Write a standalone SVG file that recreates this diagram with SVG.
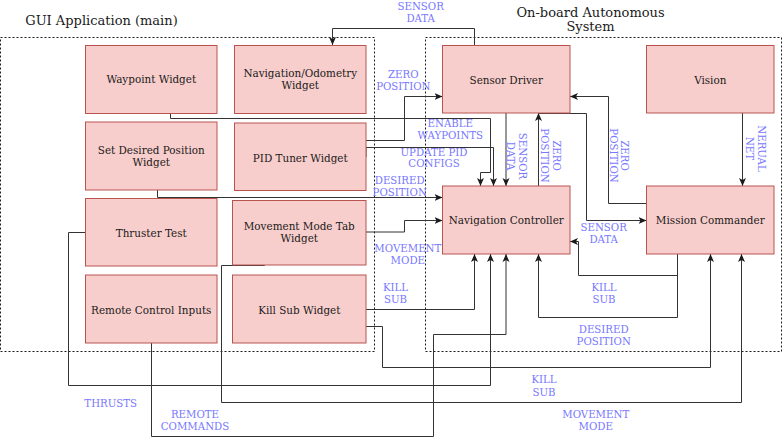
<svg xmlns="http://www.w3.org/2000/svg" width="783" height="444" viewBox="0 0 783 444">
<defs>
<style>
.node rect{fill:#f8cecc;stroke:#b85450;stroke-width:1}
.node text{font-family:"DejaVu Serif",serif;font-size:10.4px;fill:#1a1a1a;text-anchor:middle}
.title{font-family:"DejaVu Serif",serif;font-size:13px;fill:#1a1a1a;text-anchor:middle}
.container{fill:none;stroke:#1a1a1a;stroke-width:1;stroke-dasharray:2 2}
.edge{fill:none;stroke:#333;stroke-width:1;marker-end:url(#arrow)}
.lbl{font-family:"DejaVu Serif",serif;font-size:10.2px;fill:#7878ff;text-anchor:middle}
</style>
<marker id="arrow" viewBox="0 0 8 8" refX="8" refY="4" markerWidth="8" markerHeight="8" markerUnits="userSpaceOnUse" orient="auto">
<path d="M0,0.5 L8,4 L0,7.5 L2,4 Z" fill="#1a1a1a"/>
</marker>
</defs>
<rect width="783" height="444" fill="#ffffff"/>

<g id="gui-container">
<rect class="container" x="0.5" y="37.5" width="374" height="314"/>
<text class="title" x="101.5" y="25">GUI Application (main)</text>
</g>
<g id="onboard-container">
<rect class="container" x="425.5" y="37.5" width="356" height="314"/>
<text class="title" x="590.5" y="16.7">On-board Autonomous</text>
<text class="title" x="590.5" y="31">System</text>
</g>

<g id="connectors">
<path class="edge" d="M474.5,45 V28.5 H332.5 V45"/>
<path class="edge" d="M366,140.5 H404.5 V96.5 H442.5"/>
<path class="edge" d="M170.5,113 V118.5 H490.5 V172.5 H480.5 V186"/>
<path class="edge" d="M366,157 V147.5 H493.5 V186"/>
<path class="edge" d="M157.5,190 V197.5 H442.5"/>
<path class="edge" d="M366,232 H404.5 V220.5 H442.5"/>
<path class="edge" d="M506,113 V186"/>
<path class="edge" d="M538.5,186 V113"/>
<path class="edge" d="M538.5,113.5 H586.5 V220.5 H646.5"/>
<path class="edge" d="M646.5,203.5 H608.5 V96.5 H570"/>
<path class="edge" d="M742.5,113 V186"/>
<path class="edge" d="M677.5,254 V275.5 H578.5 V241.5 H570"/>
<path class="edge" d="M677.5,254 V317.5 H538.5 V254"/>
<path class="edge" d="M366,309.5 H474.5 V254"/>
<path class="edge" d="M366,326.5 H382.5 V367.5 H710.5 V254"/>
<path class="edge" d="M85.5,232.5 H68.5 V385.5 H490.5 V254"/>
<path class="edge" d="M264.5,265 V265.5 H221.5 V402.5 H741.5 V254"/>
<path class="edge" d="M151.5,343 V436.5 H433.5 V334.5 H506 V254"/>

<text class="lbl" x="420.7" y="10">SENSOR</text>
<text class="lbl" x="420.7" y="21.7">DATA</text>
<text class="lbl" x="403.3" y="78.3">ZERO</text>
<text class="lbl" x="403.3" y="90">POSITION</text>
<text class="lbl" x="450.3" y="127.3">ENABLE</text>
<text class="lbl" x="450.3" y="139.3">WAYPOINTS</text>
<text class="lbl" x="434" y="155.5">UPDATE PID</text>
<text class="lbl" x="434" y="167.2">CONFIGS</text>
<text class="lbl" x="399.7" y="184.3">DESIRED</text>
<text class="lbl" x="399.7" y="196.3">POSITION</text>
<text class="lbl" x="407.8" y="251.5">MOVEMENT</text>
<text class="lbl" x="407.8" y="263.5">MODE</text>
<text class="lbl" x="395.5" y="290.7">KILL</text>
<text class="lbl" x="395.5" y="303">SUB</text>
<text class="lbl" x="603.7" y="231">SENSOR</text>
<text class="lbl" x="603.7" y="242.7">DATA</text>
<text class="lbl" x="604" y="290.7">KILL</text>
<text class="lbl" x="604" y="303">SUB</text>
<text class="lbl" x="603.7" y="333.3">DESIRED</text>
<text class="lbl" x="603.7" y="345">POSITION</text>
<text class="lbl" x="544" y="383.3">KILL</text>
<text class="lbl" x="544" y="395.5">SUB</text>
<text class="lbl" x="595.7" y="418.3">MOVEMENT</text>
<text class="lbl" x="595.7" y="430">MODE</text>
<text class="lbl" x="110.7" y="406.7">THRUSTS</text>
<text class="lbl" x="195" y="418.3">REMOTE</text>
<text class="lbl" x="195" y="430">COMMANDS</text>
<g transform="translate(516.7,156) rotate(90)">
<text class="lbl" x="0" y="-2.3">SENSOR</text>
<text class="lbl" x="0" y="9.7">DATA</text>
</g>
<g transform="translate(550.8,155.5) rotate(90)">
<text class="lbl" x="0" y="-2.3">ZERO</text>
<text class="lbl" x="0" y="9.7">POSITION</text>
</g>
<g transform="translate(619.2,155.5) rotate(90)">
<text class="lbl" x="0" y="-2.3">ZERO</text>
<text class="lbl" x="0" y="9.7">POSITION</text>
</g>
<g transform="translate(755.5,148.5) rotate(90)">
<text class="lbl" x="0" y="-2.3">NERUAL</text>
<text class="lbl" x="0" y="9.7">NET</text>
</g>
</g>

<g id="waypoint-widget" class="node">
<rect x="85.5" y="45.5" width="131.5" height="68"/>
<text x="151.25" y="83">Waypoint Widget</text>
</g>
<g id="nav-odometry-widget" class="node">
<rect x="234.5" y="45.5" width="131.5" height="68"/>
<text x="300.25" y="76.5">Navigation/Odometry</text>
<text x="300.25" y="89">Widget</text>
</g>
<g id="set-desired-position-widget" class="node">
<rect x="85.5" y="122" width="131.5" height="68"/>
<text x="151.25" y="154">Set Desired Position</text>
<text x="151.25" y="166">Widget</text>
</g>
<g id="pid-tuner-widget" class="node">
<rect x="234.5" y="123" width="131.5" height="67.5"/>
<text x="300.25" y="161.5">PID Tuner Widget</text>
</g>
<g id="thruster-test" class="node">
<rect x="85.5" y="198.5" width="131.5" height="67.5"/>
<text x="151.25" y="236.5">Thruster Test</text>
</g>
<g id="movement-mode-tab-widget" class="node">
<rect x="232.5" y="200.5" width="133.5" height="64.5"/>
<text x="299.25" y="230">Movement Mode Tab</text>
<text x="299.25" y="242">Widget</text>
</g>
<g id="remote-control-inputs" class="node">
<rect x="85.5" y="275" width="131.5" height="68"/>
<text x="151.25" y="313.5">Remote Control Inputs</text>
</g>
<g id="kill-sub-widget" class="node">
<rect x="232.5" y="275" width="133.5" height="68"/>
<text x="299.25" y="313.5">Kill Sub Widget</text>
</g>
<g id="sensor-driver" class="node">
<rect x="442.5" y="45.5" width="127.5" height="67.5"/>
<text x="506.25" y="84">Sensor Driver</text>
</g>
<g id="vision" class="node">
<rect x="646.5" y="45.5" width="127.5" height="67.5"/>
<text x="710.25" y="84">Vision</text>
</g>
<g id="navigation-controller" class="node">
<rect x="442.5" y="186" width="127.5" height="68"/>
<text x="506.25" y="224.3">Navigation Controller</text>
</g>
<g id="mission-commander" class="node">
<rect x="646.5" y="186" width="127.5" height="68"/>
<text x="710.25" y="224.3">Mission Commander</text>
</g>
</svg>
